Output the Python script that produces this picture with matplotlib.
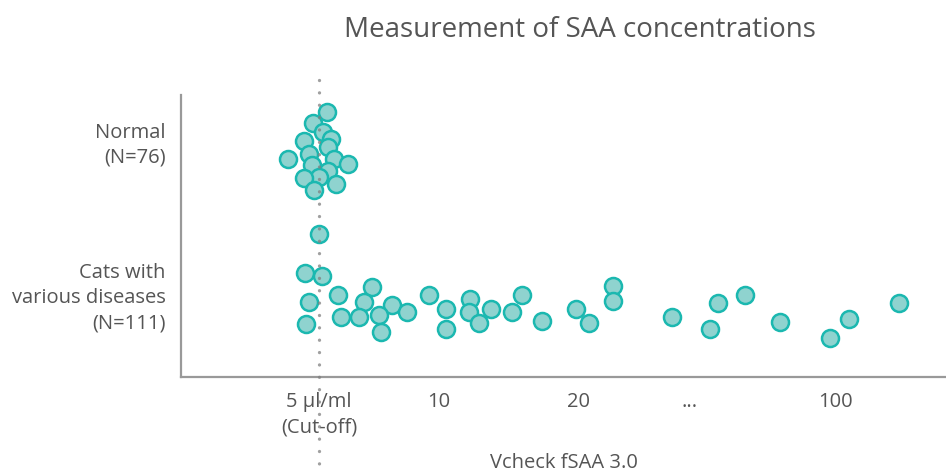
import matplotlib.pyplot as plt

plt.rcParams['font.family'] = ['Open Sans', 'DejaVu Sans']

# x: position along the concentration axis, y: jitter position (top = 0)
normal_x = [146, 132, 142, 150, 123, 147, 128, 107, 153, 167, 131, 147, 138, 123, 155, 133]
normal_y = [17, 28, 37, 44, 46, 52, 59, 64, 64, 69, 70, 76, 82, 83, 89, 95]

disease_x = [138, 124, 141, 157, 191, 128, 183, 211, 248, 265, 160, 178, 198, 226, 125,
             200, 265, 289, 288, 298, 310, 331, 341, 361, 395, 408, 432, 432, 491, 537,
             529, 564, 599, 649, 668, 718]
disease_y = [139, 178, 181, 200, 192, 207, 207, 210, 200, 214, 222, 222, 220, 217, 229,
             237, 234, 204, 217, 228, 214, 217, 200, 226, 214, 228, 191, 206, 222, 208,
             234, 200, 227, 243, 224, 208]

tick_pos = [138, 258, 398, 509, 654]
tick_labels = ['5 µl/ml\n(Cut-off)', '10', '20', '...', '100']
cutoff = 138

group_pos = [45, 198]
group_labels = ['Normal\n(N=76)', 'Cats with\nvarious diseases\n(N=111)']

text_col = '#555555'
fill_col = '#8fd3cf'
edge_col = '#1bb8b0'

fig = plt.figure(figsize=(9.46, 4.71), dpi=100)
ax = fig.add_axes([181 / 946, 94 / 471, 765 / 946, 282 / 471])

ax.scatter(normal_x, normal_y, s=150, c=fill_col, edgecolors=edge_col, linewidths=1.8, zorder=2)
ax.scatter(disease_x, disease_y, s=150, c=fill_col, edgecolors=edge_col, linewidths=1.8, zorder=2)

# dotted cut-off line, runs past the axes
ax.plot([cutoff, cutoff], [-15, 375], color='#808080', alpha=0.75, lw=2.4,
        linestyle=(0, (0.01, 3.7)), dash_capstyle='round', clip_on=False, zorder=3)

ax.set_xlim(0, 765)
ax.set_ylim(282, 0)

ax.set_xticks(tick_pos)
ax.set_xticklabels(tick_labels, fontsize=14.5, color=text_col, linespacing=1.35)
ax.set_yticks(group_pos)
ax.set_yticklabels(group_labels, fontsize=14.5, color=text_col, linespacing=1.35, ha='right')
ax.tick_params(axis='both', length=0)
ax.tick_params(axis='x', pad=11)
ax.tick_params(axis='y', pad=11)

for side in ['top', 'right']:
    ax.spines[side].set_visible(False)
for side in ['left', 'bottom']:
    ax.spines[side].set_color('#999999')
    ax.spines[side].set_linewidth(1.6)

ax.set_xlabel('Vcheck fSAA 3.0', fontsize=14.5, color=text_col, labelpad=11)
fig.text(580 / 946, 1 - 30 / 471, 'Measurement of SAA concentrations', fontsize=20,
         color=text_col, ha='center', va='center')

fig.savefig('out.png', dpi=100)
